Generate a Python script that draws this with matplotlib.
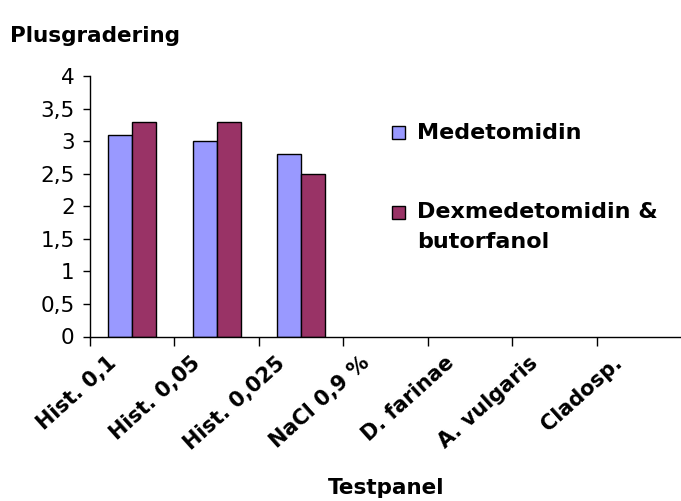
import matplotlib
matplotlib.use("Agg")
import matplotlib.pyplot as plt
import numpy as np
from matplotlib.patches import Rectangle
from matplotlib.transforms import ScaledTranslation

# Data
categories = ["Hist. 0,1", "Hist. 0,05", "Hist. 0,025", "NaCl 0,9 %",
              "D. farinae", "A. vulgaris", "Cladosp."]
series_names = ["Medetomidin", "Dexmedetomidin &\nbutorfanol"]
medetomidin = [3.1, 3.0, 2.8, 0, 0, 0, 0]
dexmed_butorfanol = [3.3, 3.3, 2.5, 0, 0, 0, 0]
series_colors = ["#9999FF", "#993366"]
y_ticks = [0, 0.5, 1, 1.5, 2, 2.5, 3, 3.5, 4]
y_tick_labels = ["0", "0,5", "1", "1,5", "2", "2,5", "3", "3,5", "4"]

plt.rcParams["font.family"] = ["DejaVu Sans"]

W, H = 681, 501
fig = plt.figure(figsize=(W / 100, H / 100), dpi=100)
ax = fig.add_axes([90 / W, 1 - 336.5 / H, 591 / W, (336.5 - 76) / H])

x = np.arange(len(categories))
bw = 0.2857
for offset, values, color in ((-bw / 2, medetomidin, series_colors[0]),
                              (bw / 2, dexmed_butorfanol, series_colors[1])):
    # empty results get no outline, so nothing shows on the axis line
    widths = [1.0 if v > 0 else 0.0 for v in values]
    ax.bar(x + offset, values, width=bw, color=color,
           edgecolor="black", linewidth=widths, zorder=3)

ax.set_xlim(-0.5, len(categories) - 0.5)
ax.set_ylim(0, 4)

for side in ("top", "right"):
    ax.spines[side].set_visible(False)
for side in ("left", "bottom"):
    ax.spines[side].set_linewidth(1.0)
    ax.spines[side].set_zorder(4)

ax.set_yticks(y_ticks)
ax.set_yticklabels(y_tick_labels, fontsize=15.5)
ax.tick_params(axis="y", direction="out", length=5, width=1.0, pad=6)

# category boundaries carry the tick marks, category centres carry the labels
ax.set_xticks(np.arange(-0.5, len(categories) - 0.5, 1.0))
ax.set_xticklabels([])
ax.tick_params(axis="x", which="major", direction="out", length=6.5, width=1.0)
ax.set_xticks(x, minor=True)
ax.set_xticklabels(categories, minor=True, rotation=42, ha="right",
                   va="center", rotation_mode="anchor", fontsize=15,
                   fontweight="bold")
ax.tick_params(axis="x", which="minor", length=0, pad=17)
shift = ScaledTranslation(-19 / 100, 0, fig.dpi_scale_trans)
for lab in ax.get_xticklabels(minor=True):
    lab.set_transform(lab.get_transform() + shift)

fig.text(10 / W, 1 - 42 / H, "Plusgradering", fontsize=15.5,
         fontweight="bold", ha="left", va="baseline")
fig.text(386 / W, 1 - 494 / H, "Testpanel", fontsize=15.5,
         fontweight="bold", ha="center", va="baseline")

# legend
legend_rows = [133, 212]
for name, color, yc in zip(series_names, series_colors, legend_rows):
    fig.patches.append(Rectangle((392 / W, 1 - (yc + 6.5) / H), 13 / W, 13 / H,
                                 transform=fig.transFigure,
                                 facecolor=color, edgecolor="black",
                                 linewidth=1.0))
    for i, line in enumerate(name.split("\n")):
        fig.text(417 / W, 1 - (yc + 30 * i) / H, line, fontsize=16,
                 fontweight="bold", ha="left", va="center")

fig.savefig("out.png", dpi=100)
